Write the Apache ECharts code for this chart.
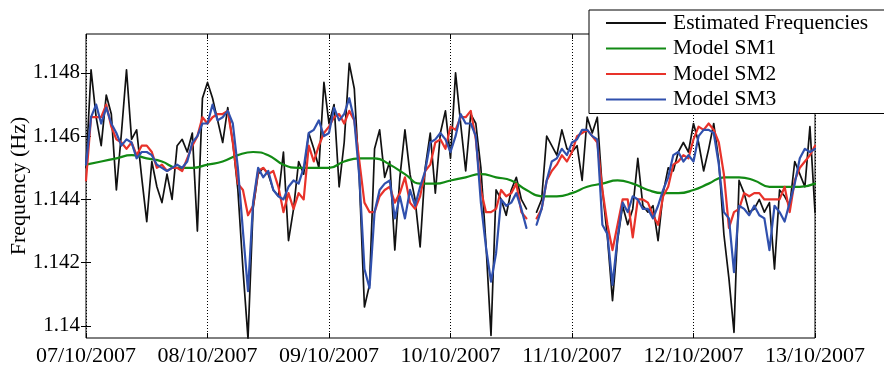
<!DOCTYPE html>
<html>
<head>
<meta charset="utf-8">
<script src="https://cdn.jsdelivr.net/npm/echarts@6/dist/echarts.min.js"></script>
<style>
  html, body { margin: 0; padding: 0; background: #fff; }
  #chart { width: 884px; height: 365px; }
</style>
</head>
<body>
<div id="chart"></div>
<script>
// Day labels at each midnight (x axis counts hours from 07/10/2007 00:00)
const dayLabels = ['07/10/2007', '08/10/2007', '09/10/2007', '10/10/2007', '11/10/2007', '12/10/2007', '13/10/2007'];
const yTicks = [1.14, 1.142, 1.144, 1.146, 1.148];

// Hourly estimated frequency (Hz), hour 0 .. 144; null = missing sample
const estimated = [
  1.1450, 1.1481, 1.1466, 1.1457, 1.1473, 1.1467, 1.1443, 1.1461, 1.1481, 1.1459, 1.1462, 1.1447,
  1.1433, 1.1452, 1.1444, 1.1439, 1.1448, 1.1440, 1.1457, 1.1459, 1.1455, 1.1461, 1.1430, 1.1472,
  1.1477, 1.1472, 1.1465, 1.1458, 1.1469, 1.1458, 1.1443, 1.1418, 1.1396, 1.1437, 1.1448, 1.1450,
  1.1448, 1.1443, 1.1441, 1.1455, 1.1427, 1.1437, 1.1452, 1.1448, 1.1461, 1.1456, 1.1450, 1.1477,
  1.1464, 1.1470, 1.1444, 1.1458, 1.1483, 1.1475, 1.1446, 1.1406, 1.1413, 1.1456, 1.1462, 1.1447,
  1.1452, 1.1424, 1.1447, 1.1462, 1.1448, 1.1440, 1.1425, 1.1450, 1.1461, 1.1442, 1.1461, 1.1468,
  1.1453, 1.1480, 1.1464, 1.1449, 1.1467, 1.1464, 1.1450, 1.1426, 1.1397, 1.1443, 1.1440, 1.1435,
  1.1443, 1.1447, 1.1440, 1.1437, null,   1.1436, 1.1440, 1.1460, 1.1457, 1.1454, 1.1462, 1.1456,
  1.1455, 1.1457, 1.1446, 1.1466, 1.1461, 1.1466, 1.1443, 1.1428, 1.1408, 1.1427, 1.1438, 1.1432,
  1.1437, 1.1453, 1.1438, 1.1436, 1.1438, 1.1427, 1.1442, 1.1450, 1.1449, 1.1455, 1.1458, 1.1455,
  1.1464, 1.1458, 1.1449, 1.1456, 1.1464, 1.1452, 1.1429, 1.1415, 1.1398, 1.1446, 1.1442, 1.1436,
  1.1437, 1.1440, 1.1436, 1.1439, 1.1418, 1.1443, 1.1441, 1.1438, 1.1452, 1.1448, 1.1444, 1.1463,
  1.1436
];

// Model SM1, every 3 hours (hour 0, 3, ..., 144)
const modelSM1 = [
  1.1451, 1.1452, 1.1453, 1.1454, 1.1453, 1.1452, 1.1450, 1.1450,
  1.1451, 1.1452, 1.1454, 1.1455, 1.1454, 1.1451, 1.1450, 1.1450,
  1.1450, 1.1452, 1.1453, 1.1453, 1.1451, 1.1448, 1.1445, 1.1445,
  1.1446, 1.1447, 1.1448, 1.1447, 1.1446, 1.1443, 1.1441, 1.1441,
  1.1442, 1.1444, 1.1445, 1.1446, 1.1445, 1.1443, 1.1442, 1.1442,
  1.1443, 1.1445, 1.1447, 1.1447, 1.1446, 1.1444, 1.1444, 1.1444,
  1.1445
];

// Model SM2, hourly
const modelSM2 = [
  1.1446, 1.1466, 1.1466, 1.1466, 1.1470, 1.1463, 1.1459, 1.1458, 1.1456, 1.1458, 1.1454, 1.1457,
  1.1457, 1.1455, 1.1450, 1.1451, 1.1449, 1.1450, 1.1450, 1.1449, 1.1453, 1.1457, 1.1460, 1.1466,
  1.1464, 1.1466, 1.1467, 1.1467, 1.1468, 1.1458, 1.1445, 1.1443, 1.1435, 1.1438, 1.1449, 1.1450,
  1.1448, 1.1449, 1.1444, 1.1436, 1.1442, 1.1437, 1.1442, 1.1440, 1.1457, 1.1452, 1.1457, 1.1461,
  1.1463, 1.1466, 1.1467, 1.1464, 1.1468, 1.1465, 1.1452, 1.1439, 1.1436, 1.1436, 1.1441, 1.1443,
  1.1444, 1.1439, 1.1442, 1.1447, 1.1439, 1.1437, 1.1441, 1.1449, 1.1451, 1.1458, 1.1459, 1.1456,
  1.1463, 1.1462, 1.1466, 1.1466, 1.1468, 1.1459, 1.1443, 1.1436, 1.1436, 1.1437, 1.1443, 1.1441,
  1.1442, 1.1445, 1.1436, 1.1434, null,   1.1434, 1.1437, 1.1446, 1.1449, 1.1451, 1.1454, 1.1452,
  1.1455, 1.1460, 1.1461, 1.1462, 1.1460, 1.1458, 1.1443, 1.1432, 1.1424, 1.1432, 1.1440, 1.1440,
  1.1428, 1.1440, 1.1440, 1.1439, 1.1435, 1.1432, 1.1441, 1.1444, 1.1451, 1.1452, 1.1454, 1.1453,
  1.1459, 1.1463, 1.1462, 1.1464, 1.1462, 1.1458, 1.1448, 1.1431, 1.1436, 1.1437, 1.1442, 1.1441,
  1.1442, 1.1442, 1.1440, 1.1440, 1.1440, 1.1440, 1.1444, 1.1436, 1.1446, 1.1450, 1.1452, 1.1454,
  1.1457
];

// Model SM3, hourly
const modelSM3 = [
  1.1451, 1.1466, 1.1470, 1.1464, 1.1469, 1.1464, 1.1461, 1.1457, 1.1459, 1.1458, 1.1453, 1.1455,
  1.1455, 1.1454, 1.1451, 1.1450, 1.1449, 1.1450, 1.1451, 1.1450, 1.1452, 1.1458, 1.1460, 1.1464,
  1.1464, 1.1470, 1.1465, 1.1466, 1.1468, 1.1464, 1.1450, 1.1430, 1.1411, 1.1439, 1.1450, 1.1447,
  1.1449, 1.1443, 1.1441, 1.1440, 1.1444, 1.1446, 1.1445, 1.1450, 1.1461, 1.1462, 1.1465, 1.1460,
  1.1461, 1.1469, 1.1465, 1.1467, 1.1472, 1.1465, 1.1447, 1.1418, 1.1412, 1.1436, 1.1443, 1.1445,
  1.1446, 1.1434, 1.1441, 1.1434, 1.1443, 1.1438, 1.1444, 1.1449, 1.1458, 1.1459, 1.1461, 1.1459,
  1.1455, 1.1460, 1.1467, 1.1464, 1.1464, 1.1460, 1.1439, 1.1425, 1.1414, 1.1423, 1.1440, 1.1438,
  1.1439, 1.1442, 1.1437, 1.1431, null,   1.1432, 1.1437, 1.1446, 1.1452, 1.1453, 1.1456, 1.1454,
  1.1458, 1.1459, 1.1462, 1.1462, 1.1460, 1.1459, 1.1432, 1.1429, 1.1413, 1.1428, 1.1439, 1.1436,
  1.1441, 1.1440, 1.1437, 1.1437, 1.1434, 1.1438, 1.1443, 1.1447, 1.1454, 1.1455, 1.1452, 1.1454,
  1.1452, 1.1460, 1.1462, 1.1462, 1.1461, 1.1451, 1.1436, 1.1434, 1.1417, 1.1438, 1.1437, 1.1435,
  1.1438, 1.1435, 1.1434, 1.1424, 1.1438, 1.1436, 1.1433, 1.1439, 1.1445, 1.1453, 1.1456, 1.1455,
  1.1456
];

const FONT = '"Liberation Serif", "Times New Roman", serif';
const hourly = arr => arr.map((v, i) => [i, v]);
const every3h = arr => arr.map((v, i) => [i * 3, v]);

function lineSeries(name, data, color, width, smooth) {
  return {
    name, type: 'line', data, smooth: smooth || false,
    symbol: 'none', showSymbol: false, connectNulls: false, clip: true,
    color,
    lineStyle: { color, width, join: 'round', cap: 'round' },
    itemStyle: { color },
    emphasis: { disabled: true }
  };
}

const chart = echarts.init(document.getElementById('chart'), null, { renderer: 'canvas' });
chart.setOption({
  animation: false,
  backgroundColor: '#fff',
  textStyle: { fontFamily: FONT },
  grid: {
    left: 86, right: 69, top: 34, bottom: 27,
    containLabel: false, outerBoundsMode: 'none',
    show: true, borderColor: '#000', borderWidth: 1, backgroundColor: 'transparent'
  },
  xAxis: [{
    type: 'value', min: 0, max: 144, interval: 24,
    axisLine: { show: false },
    axisTick: { inside: true, length: 5, lineStyle: { color: '#000', width: 1 } },
    axisLabel: { formatter: v => dayLabels[Math.round(v / 24)], fontSize: 22, color: '#000', fontFamily: FONT, margin: 7 },
    splitLine: { show: true, lineStyle: { color: '#000', type: [1, 2], width: 1 } }
  }, {
    type: 'value', position: 'top', min: 0, max: 144, interval: 24,
    axisLine: { show: false },
    axisTick: { inside: true, length: 5, lineStyle: { color: '#000', width: 1 } },
    axisLabel: { show: false }, splitLine: { show: false }
  }],
  yAxis: [{
    type: 'value', min: 1.13962, max: 1.14923,
    name: 'Frequency (Hz)', nameLocation: 'middle', nameGap: 56, nameRotate: 90,
    nameMoveOverlap: false,
    nameTextStyle: { fontSize: 22, color: '#000', fontFamily: FONT },
    axisLine: { show: false },
    axisTick: { inside: true, length: 5, customValues: yTicks, lineStyle: { color: '#000', width: 1 } },
    axisLabel: { customValues: yTicks, formatter: v => String(+v.toFixed(3)), fontSize: 21, color: '#000', fontFamily: FONT, margin: 6 },
    splitLine: { show: false }
  }, {
    type: 'value', position: 'right', min: 1.13962, max: 1.14923,
    axisLine: { show: false },
    axisTick: { inside: true, length: 5, customValues: yTicks, lineStyle: { color: '#000', width: 1 } },
    axisLabel: { show: false }, splitLine: { show: false }
  }],
  legend: {
    orient: 'vertical', left: 589, top: 10,
    padding: [2, 60, 3, 17],
    itemWidth: 60, itemHeight: 2, itemGap: 3.5, icon: 'rect',
    backgroundColor: '#fff', borderColor: '#000', borderWidth: 1, borderRadius: 0,
    selectedMode: false,
    textStyle: { fontSize: 21.5, fontFamily: FONT, color: '#000', lineHeight: 22, padding: [0, 0, 0, 2] },
    data: ['Estimated Frequencies', 'Model SM1', 'Model SM2', 'Model SM3']
  },
  series: [
    lineSeries('Estimated Frequencies', hourly(estimated), '#111111', 1.7),
    lineSeries('Model SM1', every3h(modelSM1), '#128a14', 2.2, 0.5),
    lineSeries('Model SM2', hourly(modelSM2), '#e8322a', 2.2),
    lineSeries('Model SM3', hourly(modelSM3), '#3050ad', 2.2)
  ]
});
</script>
</body>
</html>
